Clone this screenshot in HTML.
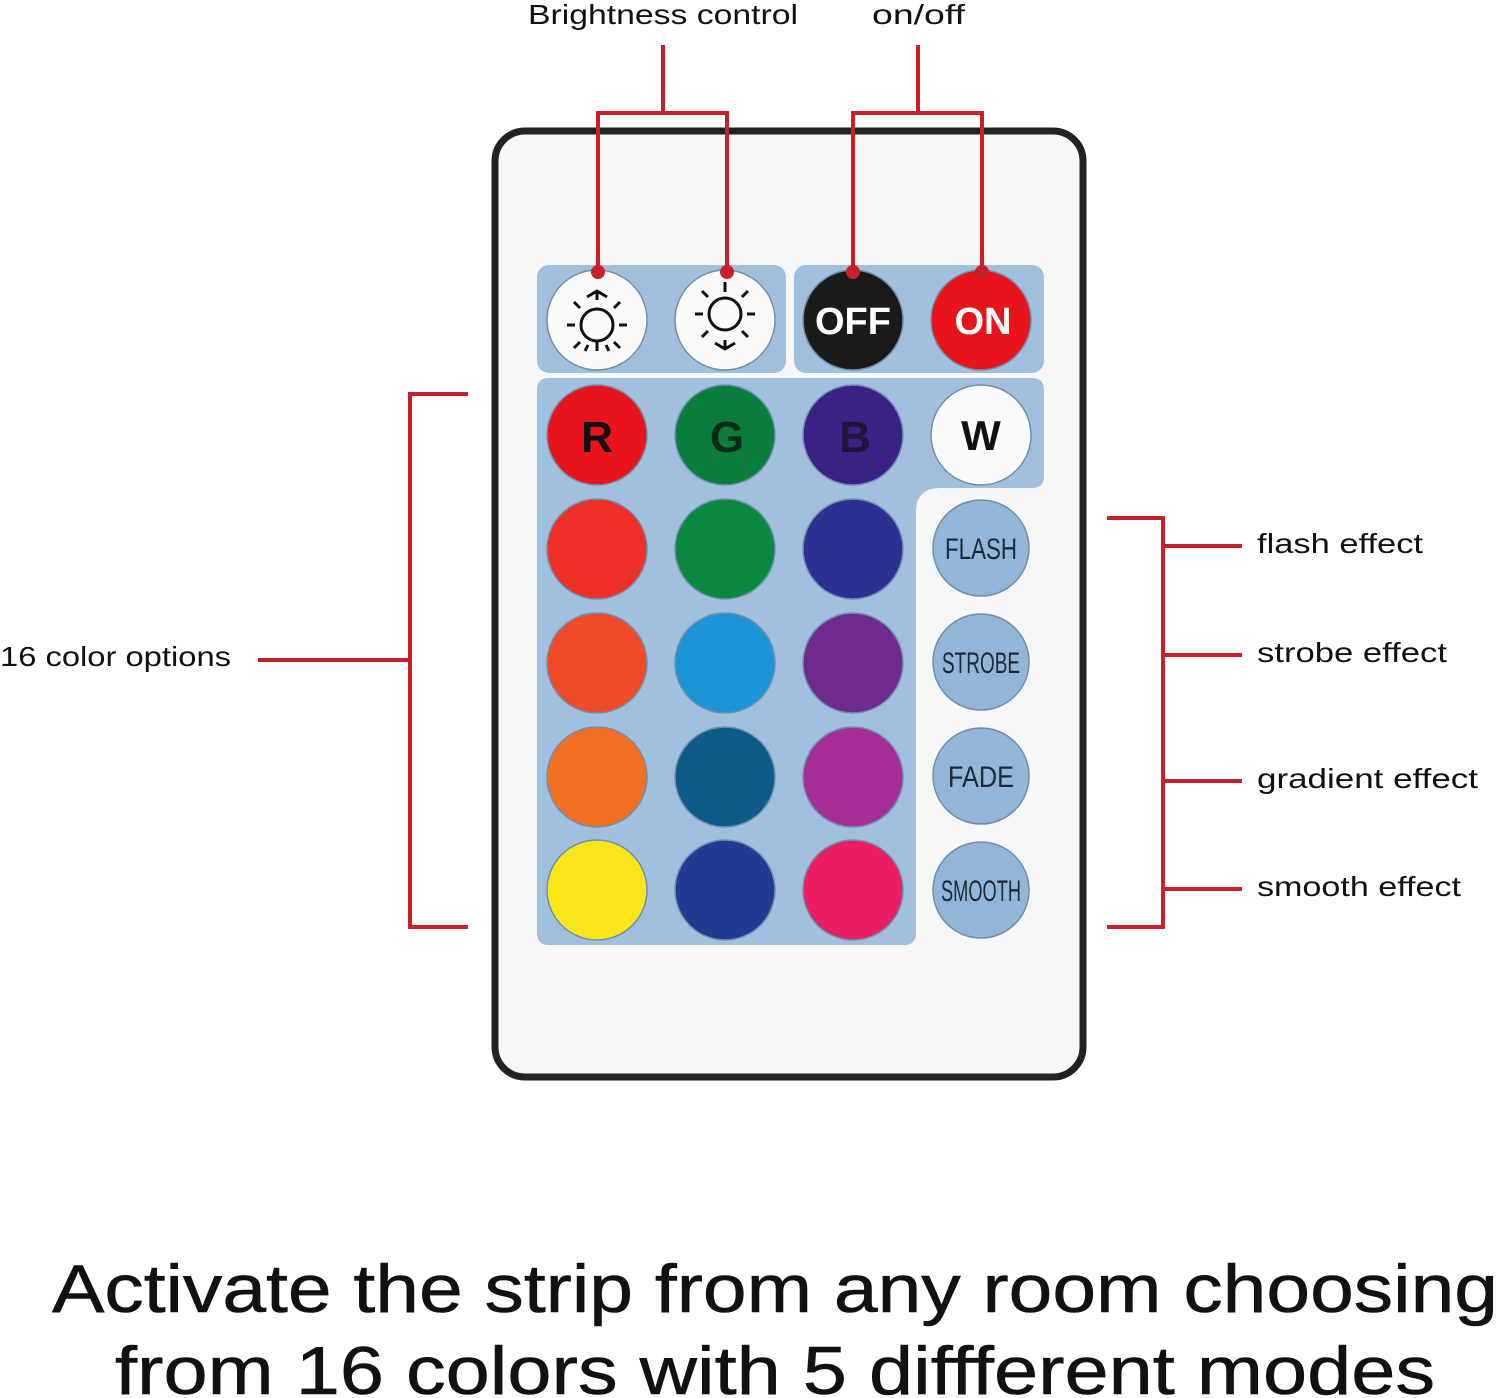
<!DOCTYPE html>
<html><head><meta charset="utf-8"><style>
html,body{margin:0;padding:0;background:#fff;width:1500px;height:1398px;overflow:hidden}
svg{display:block}
</style></head><body>
<svg width="1500" height="1398" viewBox="0 0 1500 1398" xmlns="http://www.w3.org/2000/svg" font-family="Liberation Sans, sans-serif">
<rect x="495" y="131" width="588" height="946" rx="30" fill="#f7f7f7" stroke="#222" stroke-width="7"/>
<rect x="537" y="265" width="249" height="108" rx="12" fill="#a2c0de"/>
<rect x="794" y="265" width="250" height="108" rx="12" fill="#a2c0de"/>
<path d="M549 378 H1032 Q1044 378 1044 390 V476 Q1044 488 1032 488 H940 Q916 488 916 512 V933 Q916 945 904 945 H549 Q537 945 537 933 V390 Q537 378 549 378 Z" fill="#a2c0de"/>
<g stroke="#6f8fae" stroke-width="1.5">
<circle cx="597" cy="320" r="50" fill="#fafafa"/>
<circle cx="725" cy="320" r="50" fill="#fafafa"/>
<circle cx="853" cy="320" r="50" fill="#1a1a1a"/>
<circle cx="981" cy="320" r="50" fill="#e8141c"/>
<circle cx="597" cy="435" r="50" fill="#e8141c"/>
<circle cx="725" cy="435" r="50" fill="#0a7c3c"/>
<circle cx="853" cy="435" r="50" fill="#3b2185"/>
<circle cx="981" cy="435" r="50" fill="#fafafa"/>
<circle cx="597" cy="549" r="50" fill="#ef3026"/>
<circle cx="725" cy="549" r="50" fill="#0a8840"/>
<circle cx="853" cy="549" r="50" fill="#2e2f92"/>
<circle cx="597" cy="663" r="50" fill="#f04a28"/>
<circle cx="725" cy="663" r="50" fill="#1b95d6"/>
<circle cx="853" cy="663" r="50" fill="#6e2a8f"/>
<circle cx="597" cy="777" r="50" fill="#f36f22"/>
<circle cx="725" cy="777" r="50" fill="#0d5b88"/>
<circle cx="853" cy="777" r="50" fill="#a52e96"/>
<circle cx="597" cy="890" r="50" fill="#f9e51a"/>
<circle cx="725" cy="890" r="50" fill="#213a92"/>
<circle cx="853" cy="890" r="50" fill="#e91e63"/>
<circle cx="981" cy="548" r="48" fill="#92b6d8"/>
<circle cx="981" cy="662" r="48" fill="#92b6d8"/>
<circle cx="981" cy="776" r="48" fill="#92b6d8"/>
<circle cx="981" cy="890" r="48" fill="#92b6d8"/>
</g>
<g fill="none" stroke="#111" stroke-width="3">
<circle cx="597" cy="325" r="16"/>
<circle cx="725" cy="314" r="16"/>
<path d="M587 297 L597 291 L607 297 M597 291 V300"/>
<path d="M715 343 L725 349 L735 343 M725 340 V349"/>
</g>
<g stroke="#111" stroke-width="3">
<path d="M575 325h-8M619 325h8M580 308l-6-6M614 308l6-6M580 342l-6 6M614 342l6 6M597 341v10M588 345l-3 6M606 345l3 6"/>
<path d="M703 314h-8M747 314h8M708 297l-6-6M742 297l6-6M708 331l-6 6M742 331l6 6M725 292v-10"/>
</g>
<g font-family="Liberation Sans Narrow, Liberation Sans, sans-serif" font-weight="bold" text-anchor="middle">
<text x="853" y="334" font-size="38" fill="#fff">OFF</text>
<text x="983" y="334" font-size="38" fill="#fff">ON</text>
<text x="597" y="452" font-size="44" fill="#111">R</text>
<text x="727" y="452" font-size="44" fill="#0a2a18">G</text>
<text x="855" y="452" font-size="44" fill="#24123a">B</text>
<text x="981" y="450" font-size="42" fill="#111">W</text>
<g font-weight="normal" fill="#1a2a3a" font-size="30">
<text x="981" y="559" textLength="72" lengthAdjust="spacingAndGlyphs">FLASH</text>
<text x="981" y="673" textLength="78" lengthAdjust="spacingAndGlyphs">STROBE</text>
<text x="981" y="787" textLength="66" lengthAdjust="spacingAndGlyphs">FADE</text>
<text x="981" y="901" textLength="80" lengthAdjust="spacingAndGlyphs">SMOOTH</text>
</g>
</g>
<g stroke="#c8202a" stroke-width="4" fill="none">
<path d="M663 45V113M598 272V113H727V272"/>
<path d="M918 45V113M853 272V113H982V272"/>
<path d="M258 660H410M468 394H410V927H468"/>
<path d="M1107 518H1163V927H1107M1163 546H1242M1163 655H1242M1163 781H1242M1163 889H1242"/>
</g>
<g fill="#c8202a"><circle cx="598" cy="272" r="7"/><circle cx="727" cy="272" r="7"/><circle cx="853" cy="272" r="7"/><circle cx="982" cy="272" r="7"/></g>
<g font-size="28" fill="#111" lengthAdjust="spacingAndGlyphs">
<text x="528" y="24" textLength="270" lengthAdjust="spacingAndGlyphs">Brightness control</text>
<text x="872" y="24" textLength="93" lengthAdjust="spacingAndGlyphs">on/off</text>
<text x="0" y="666" textLength="231" lengthAdjust="spacingAndGlyphs">16 color options</text>
<text x="1257" y="553" textLength="166" lengthAdjust="spacingAndGlyphs">flash effect</text>
<text x="1257" y="662" textLength="190" lengthAdjust="spacingAndGlyphs">strobe effect</text>
<text x="1257" y="788" textLength="221" lengthAdjust="spacingAndGlyphs">gradient effect</text>
<text x="1257" y="896" textLength="204" lengthAdjust="spacingAndGlyphs">smooth effect</text>
</g>
<g font-size="68" fill="#111" stroke="#111" stroke-width="0.6">
<text x="52" y="1312" textLength="1446" lengthAdjust="spacingAndGlyphs">Activate the strip from any room choosing</text>
<text x="115" y="1394" textLength="1320" lengthAdjust="spacingAndGlyphs">from 16 colors with 5 diffferent modes</text>
</g>
</svg>
</body></html>
